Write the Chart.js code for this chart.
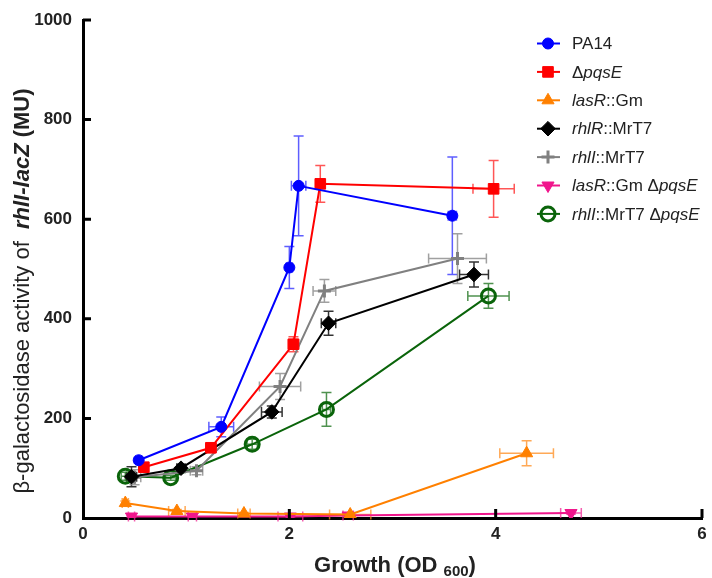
<!DOCTYPE html>
<html>
<head>
<meta charset="utf-8">
<script src="https://cdn.jsdelivr.net/npm/chart.js@4.4.1/dist/chart.umd.min.js"></script>
<style>
  html, body { margin: 0; padding: 0; background: #fff; }
  #wrap { width: 712px; height: 578px; }
</style>
</head>
<body>
<div id="wrap"><canvas id="growthChart" width="712" height="578"></canvas></div>
<script>
// values: OD600 (x) and beta-galactosidase MU (y), with +/- errors
var pa14X = [0.54, 1.34, 2.00, 2.09, 3.58];
var pa14Y = [116, 183, 503, 667, 607];
var pa14XErr = [0.03, 0.12, 0.03, 0.07, 0.04];
var pa14YErr = [6, 20, 42, 100, 118];

var pqsEX = [0.59, 1.24, 2.04, 2.30, 3.98];
var pqsEY = [102, 141, 349, 671, 661];
var pqsEXErr = [0.04, 0.05, 0.05, 0.03, 0.20];
var pqsEYErr = [6, 8, 15, 37, 57];

var lasRX = [0.41, 0.91, 1.56, 2.59, 4.30];
var lasRY = [30, 14, 9, 7, 130];
var lasRXErr = [0.03, 0.08, 0.06, 0.20, 0.26];
var lasRYErr = [4, 3, 2, 2, 25];

var rhlRX = [0.47, 0.95, 1.83, 2.38, 3.79];
var rhlRY = [83, 100, 213, 391, 489];
var rhlRXErr = [0.05, 0.04, 0.10, 0.07, 0.14];
var rhlRYErr = [20, 8, 12, 24, 25];

var rhlIX = [0.50, 1.10, 1.91, 2.34, 3.63];
var rhlIY = [82, 95, 264, 456, 521];
var rhlIXErr = [0.06, 0.06, 0.20, 0.11, 0.28];
var rhlIYErr = [15, 8, 26, 23, 50];

var lasRpqsEX = [0.47, 1.06, 2.01, 2.57, 4.73];
var lasRpqsEY = [3, 3, 3, 5, 10];
var lasRpqsEXErr = [0.03, 0.04, 0.12, 0.05, 0.10];
var lasRpqsEYErr = [1, 1, 1, 1, 2];

var rhlIpqsEX = [0.41, 0.85, 1.64, 2.36, 3.93];
var rhlIpqsEY = [84, 81, 148, 218, 446];
var rhlIpqsEXErr = [0.04, 0.05, 0.05, 0.04, 0.20];
var rhlIpqsEYErr = [8, 5, 10, 34, 25];

var xTicks = [0, 2, 4, 6];
var yTicks = [0, 200, 400, 600, 800, 1000];

// legend labels as [text, style] pieces (i = italic)
var legendParts = [
  [['PA14', '']],
  [['\u0394', ''], ['pqsE', 'i']],
  [['lasR', 'i'], ['::Gm', '']],
  [['rhlR', 'i'], ['::MrT7', '']],
  [['rhlI', 'i'], ['::MrT7', '']],
  [['lasR', 'i'], ['::Gm \u0394', ''], ['pqsE', 'i']],
  [['rhlI', 'i'], ['::MrT7 \u0394', ''], ['pqsE', 'i']]
];

var FONT = '"Liberation Sans", Arial, sans-serif';

function pts(xs, ys) {
  return xs.map(function (x, i) { return { x: x, y: ys[i] }; });
}

function series(label, xs, ys, xe, ye, color, errColor, style, extra) {
  var ds = {
    label: label,
    data: pts(xs, ys),
    xErr: xe,
    yErr: ye,
    errColor: errColor,
    showLine: true,
    borderColor: color,
    backgroundColor: color,
    borderWidth: 2,
    pointStyle: style,
    pointBackgroundColor: color,
    pointBorderColor: color,
    pointBorderWidth: 1,
    pointRadius: 6,
    pointHoverRadius: 6,
    tension: 0
  };
  for (var k in extra) ds[k] = extra[k];
  return ds;
}

var datasets = [
  series('PA14', pa14X, pa14Y, pa14XErr, pa14YErr, '#0000ff', 'rgba(40,40,255,0.75)', 'circle', { pointRadius: 5.5 }),
  series('\u0394pqsE', pqsEX, pqsEY, pqsEXErr, pqsEYErr, '#ff0000', 'rgba(255,30,30,0.75)', 'rect', { pointRadius: 7.5 }),
  series('lasR::Gm', lasRX, lasRY, lasRXErr, lasRYErr, '#ff8000', 'rgba(255,140,30,0.75)', 'triangle', { pointRadius: 7 }),
  series('rhlR::MrT7', rhlRX, rhlRY, rhlRXErr, rhlRYErr, '#000000', 'rgba(0,0,0,0.8)', 'rectRot', { pointRadius: 7.3 }),
  series('rhlI::MrT7', rhlIX, rhlIY, rhlIXErr, rhlIYErr, '#808080', 'rgba(128,128,128,0.75)', 'cross', { pointRadius: 6.5, pointBorderWidth: 3 }),
  series('lasR::Gm \u0394pqsE', lasRpqsEX, lasRpqsEY, lasRpqsEXErr, lasRpqsEYErr, '#f0168c', 'rgba(240,40,150,0.75)', 'triangle', { pointRadius: 7, pointRotation: 180 }),
  series('rhlI::MrT7 \u0394pqsE', rhlIpqsEX, rhlIpqsEY, rhlIpqsEXErr, rhlIpqsEYErr, '#0a640a', 'rgba(20,110,20,0.75)', 'circle', { pointRadius: 7, pointBorderWidth: 3, pointBackgroundColor: 'rgba(0,0,0,0)' })
];

function setFont(ctx, style, size, baseWeight) {
  var italic = style.indexOf('i') >= 0;
  var bold = style.indexOf('b') >= 0 || baseWeight === 'bold';
  ctx.font = (italic ? 'italic ' : '') + (bold ? 'bold ' : '') + size + 'px ' + FONT;
}

function drawPieces(ctx, parts, x, y, size, baseWeight) {
  parts.forEach(function (p) {
    setFont(ctx, p[1], size, baseWeight);
    ctx.fillText(p[0], x, y);
    x += ctx.measureText(p[0]).width;
  });
  return x;
}

function piecesWidth(ctx, parts, size, baseWeight) {
  var w = 0;
  parts.forEach(function (p) {
    setFont(ctx, p[1], size, baseWeight);
    w += ctx.measureText(p[0]).width;
  });
  return w;
}

var extras = {
  id: 'extras',
  beforeDatasetsDraw: function (chart) {
    var ctx = chart.ctx, xs = chart.scales.x, ys = chart.scales.y;
    var cap = 5;
    ctx.save();
    ctx.lineWidth = 1.5;
    chart.data.datasets.forEach(function (ds) {
      ctx.strokeStyle = ds.errColor;
      ds.data.forEach(function (p, i) {
        var px = xs.getPixelForValue(p.x), py = ys.getPixelForValue(p.y);
        var x1 = xs.getPixelForValue(p.x - ds.xErr[i]), x2 = xs.getPixelForValue(p.x + ds.xErr[i]);
        var y1 = ys.getPixelForValue(p.y + ds.yErr[i]), y2 = ys.getPixelForValue(Math.max(0, p.y - ds.yErr[i]));
        ctx.beginPath();
        ctx.moveTo(x1, py); ctx.lineTo(x2, py);
        ctx.moveTo(x1, py - cap); ctx.lineTo(x1, py + cap);
        ctx.moveTo(x2, py - cap); ctx.lineTo(x2, py + cap);
        ctx.moveTo(px, y1); ctx.lineTo(px, y2);
        ctx.moveTo(px - cap, y1); ctx.lineTo(px + cap, y1);
        ctx.moveTo(px - cap, y2); ctx.lineTo(px + cap, y2);
        ctx.stroke();
      });
    });
    ctx.restore();
  },
  afterDraw: function (chart) {
    var ctx = chart.ctx, xs = chart.scales.x, ys = chart.scales.y, area = chart.chartArea;
    ctx.save();
    // inward tick marks
    ctx.strokeStyle = '#000';
    ctx.lineWidth = 3;
    ctx.beginPath();
    xTicks.forEach(function (v) {
      var px = xs.getPixelForValue(v);
      if (v === 0) return;
      ctx.moveTo(px, area.bottom); ctx.lineTo(px, area.bottom - 9);
    });
    yTicks.forEach(function (v) {
      var py = ys.getPixelForValue(v);
      if (v === 0) return;
      ctx.moveTo(area.left, py); ctx.lineTo(area.left + 8, py);
    });
    ctx.stroke();

    ctx.fillStyle = '#222';
    ctx.textBaseline = 'alphabetic';
    ctx.textAlign = 'left';

    // x title with subscript
    var t1 = 'Growth (OD', sub = '600', t2 = ')';
    ctx.font = 'bold 22px ' + FONT;
    var w1 = ctx.measureText(t1 + ' ').width, w3 = ctx.measureText(t2).width;
    ctx.font = 'bold 15px ' + FONT;
    var w2 = ctx.measureText(sub).width;
    var sx = 395 - (w1 + w2 + w3) / 2;
    var by = 572;
    ctx.font = 'bold 22px ' + FONT;
    ctx.fillText(t1, sx, by);
    ctx.font = 'bold 15px ' + FONT;
    ctx.fillText(sub, sx + w1, by + 4);
    ctx.font = 'bold 22px ' + FONT;
    ctx.fillText(t2, sx + w1 + w2, by);

    // y title, rotated, mixed styles
    var yParts = [['\u03b2-galactosidase activity of  ', ''], ['rhlI-lacZ', 'ib'], [' (MU)', 'b']];
    ctx.save();
    ctx.translate(29, 291);
    ctx.rotate(-Math.PI / 2);
    var tw = piecesWidth(ctx, yParts, 22, '');
    drawPieces(ctx, yParts, -tw / 2, 0, 22, '');
    ctx.restore();

    // legend
    var lx1 = 537, lx2 = 560, mx = 548, tx = 572, ly0 = 43.5, step = 28.4;
    chart.data.datasets.forEach(function (ds, i) {
      var y = ly0 + i * step;
      ctx.strokeStyle = ds.borderColor;
      ctx.lineWidth = 2;
      ctx.beginPath(); ctx.moveTo(lx1, y); ctx.lineTo(lx2, y); ctx.stroke();
      ctx.fillStyle = ds.pointBackgroundColor;
      ctx.strokeStyle = ds.pointBorderColor;
      ctx.lineWidth = ds.pointBorderWidth;
      Chart.helpers.drawPoint(ctx, {
        pointStyle: ds.pointStyle,
        radius: ds.pointRadius,
        rotation: ds.pointRotation || 0,
        borderWidth: ds.pointBorderWidth
      }, mx, y);
      ctx.fillStyle = '#222';
      ctx.textBaseline = 'middle';
      drawPieces(ctx, legendParts[i], tx, y + 1, 17, '');
    });
    ctx.restore();
  }
};

new Chart(document.getElementById('growthChart').getContext('2d'), {
  type: 'scatter',
  data: { datasets: datasets },
  options: {
    responsive: false,
    animation: false,
    layout: { padding: { top: 20, right: 4, bottom: 0, left: 0 } },
    plugins: { legend: { display: false }, tooltip: { enabled: false } },
    scales: {
      x: {
        type: 'linear', min: 0, max: 6,
        afterBuildTicks: function (s) { s.ticks = xTicks.map(function (v) { return { value: v }; }); },
        afterFit: function (s) { s.height = 60; s.paddingLeft = 0; s.paddingRight = 0; },
        grid: { display: false, drawTicks: false, tickLength: 0 },
        border: { display: true, color: '#000', width: 3 },
        ticks: {
          color: '#222', padding: 6, maxRotation: 0,
          font: { family: FONT, size: 17, weight: 'bold' },
          callback: function (v) { return String(v); }
        }
      },
      y: {
        type: 'linear', min: 0, max: 1000,
        afterBuildTicks: function (s) { s.ticks = yTicks.map(function (v) { return { value: v }; }); },
        afterFit: function (s) { s.width = 83; s.paddingTop = 0; s.paddingBottom = 0; },
        grid: { display: false, drawTicks: false, tickLength: 0 },
        border: { display: true, color: '#000', width: 3 },
        ticks: {
          color: '#222', padding: 11,
          font: { family: FONT, size: 17, weight: 'bold' },
          callback: function (v) { return String(v); }
        }
      }
    }
  },
  plugins: [extras]
});
</script>
</body>
</html>
